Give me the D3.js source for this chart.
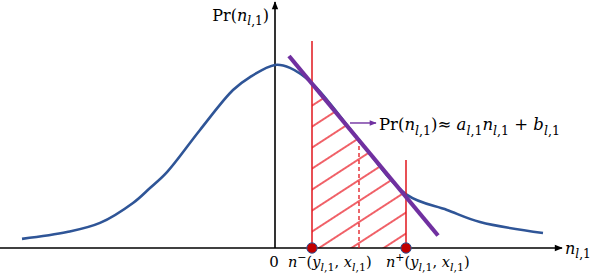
<!doctype html>
<html>
  <head>
    <meta charset="utf-8">
    <title>Linear approximation of Pr(n)</title>
    <script src="https://cdnjs.cloudflare.com/ajax/libs/d3/7.8.5/d3.min.js"></script>
    <style>
      body { margin: 0; background: #fff; }
      text { font-family: "DejaVu Serif", "Liberation Serif", serif; fill: #000; }
    </style>
  </head>
  <body>
    <div id="chart"></div>
    <script>

      // density curve (n, Pr)
      const curveN  = [-5.06, -4.16, -3.5, -2.84, -2.5, -2.16, -1.5, -0.84, -0.5, 0, 0.3, 0.74, 1.68, 2.64, 3.44, 4.1, 5.36];
      const curvePr = [0.05, 0.087, 0.137, 0.246, 0.328, 0.415, 0.645, 0.863, 0.934, 1.0, 0.984, 0.90, 0.59, 0.29, 0.208, 0.142, 0.082];

      // interval and linear approximation
      const nMinus = 0.74, nPlus = 2.62, nMid = 1.68;
      const leftTop = 1.131, rightTop = 0.481;
      const lineN = [0.28, 3.26];
      const lineA = -0.329, lineB = 1.141;

      // annotation arrow
      const arrowN = [1.5, 2.02], arrowPr = 0.683;

      const width = 594, height = 276;

      const x = d3.scaleLinear().domain([-5.5, 5.46]).range([0, 548]);
      const y = d3.scaleLinear().domain([0, 1.344]).range([248, 2]);

      const svg = d3.select('#chart').append('svg')
        .attr('width', width)
        .attr('height', height);

      const defs = svg.append('defs');

      // arrow heads
      function marker(id, color, w, h) {
        defs.append('marker')
          .attr('id', id)
          .attr('viewBox', '0 0 10 10')
          .attr('refX', 9).attr('refY', 5)
          .attr('markerWidth', w).attr('markerHeight', h)
          .attr('markerUnits', 'userSpaceOnUse')
          .attr('orient', 'auto')
          .append('path')
          .attr('d', 'M0,1 L10,5 L0,9 Z')
          .attr('fill', color);
      }
      marker('arrBlack', '#000', 10, 8);
      marker('arrPurple', '#7030a0', 9, 7);

      // hatch
      const pat = defs.append('pattern')
        .attr('id', 'hatch')
        .attr('patternUnits', 'userSpaceOnUse')
        .attr('width', 20).attr('height', 17.6)
        .attr('patternTransform', 'translate(0,4) rotate(-33)');
      pat.append('line')
        .attr('x1', -2).attr('x2', 22)
        .attr('y1', 8.8).attr('y2', 8.8)
        .attr('stroke', '#e8101a')
        .attr('stroke-width', 1.3);

      const red = '#e0161c';
      const linePr = n => lineA * n + lineB;

      // hatched area under the linear approximation
      const area = [[nMinus, 0], [nMinus, linePr(nMinus)], [nPlus, linePr(nPlus)], [nPlus, 0]];
      svg.append('path')
        .attr('d', 'M' + area.map(p => [x(p[0]), y(p[1])].join(',')).join('L') + 'Z')
        .attr('fill', 'url(#hatch)');

      // axes
      svg.append('line')
        .attr('x1', x(-5.5)).attr('x2', x(5.74))
        .attr('y1', y(0)).attr('y2', y(0))
        .attr('stroke', '#000').attr('stroke-width', 1.6)
        .attr('marker-end', 'url(#arrBlack)');
      svg.append('line')
        .attr('x1', x(0)).attr('x2', x(0))
        .attr('y1', y(0)).attr('y2', y(1.344))
        .attr('stroke', '#000').attr('stroke-width', 1.6)
        .attr('marker-end', 'url(#arrBlack)');

      // curve
      const pts = curveN.map((n, i) => [n, curvePr[i]]);
      svg.append('path')
        .datum(pts)
        .attr('d', d3.line().x(d => x(d[0])).y(d => y(d[1])).curve(d3.curveCatmullRom.alpha(0.5)))
        .attr('fill', 'none')
        .attr('stroke', '#2f5597')
        .attr('stroke-width', 2.6);

      // vertical red lines
      svg.append('line')
        .attr('x1', x(nMinus)).attr('x2', x(nMinus))
        .attr('y1', y(0)).attr('y2', y(leftTop))
        .attr('stroke', red).attr('stroke-width', 1.5);
      svg.append('line')
        .attr('x1', x(nPlus)).attr('x2', x(nPlus))
        .attr('y1', y(0)).attr('y2', y(rightTop))
        .attr('stroke', red).attr('stroke-width', 1.5);
      svg.append('line')
        .attr('x1', x(nMid)).attr('x2', x(nMid))
        .attr('y1', y(0)).attr('y2', y(linePr(nMid)))
        .attr('stroke', red).attr('stroke-width', 1.3)
        .attr('stroke-dasharray', '4,3');

      // linear approximation
      svg.append('line')
        .attr('x1', x(lineN[0])).attr('y1', y(linePr(lineN[0])))
        .attr('x2', x(lineN[1])).attr('y2', y(linePr(lineN[1])))
        .attr('stroke', '#7030a0').attr('stroke-width', 4.2);

      // annotation arrow
      svg.append('line')
        .attr('x1', x(arrowN[0])).attr('x2', x(arrowN[1]))
        .attr('y1', y(arrowPr)).attr('y2', y(arrowPr))
        .attr('stroke', '#7030a0').attr('stroke-width', 1.4)
        .attr('marker-end', 'url(#arrPurple)');

      // endpoints
      svg.selectAll('circle.end')
        .data([nMinus, nPlus])
        .join('circle')
        .attr('class', 'end')
        .attr('cx', d => x(d)).attr('cy', y(0))
        .attr('r', 5.2)
        .attr('fill', '#c00000')
        .attr('stroke', '#2f5597').attr('stroke-width', 1);

      // math text helper: parts = [text, kind], kind: r roman, i italic, sub, subi, sup
      function mathText(px, py, size, parts, anchor) {
        const t = svg.append('text')
          .attr('x', px).attr('y', py)
          .attr('text-anchor', anchor || 'start')
          .style('font-size', size + 'px');
        let shift = 0;
        parts.forEach(([s, kind]) => {
          let target = 0, fs = size, italic = false;
          if (kind === 'i') italic = true;
          if (kind === 'sub') { target = size * 0.28; fs = size * 0.76; }
          if (kind === 'subi') { target = size * 0.28; fs = size * 0.76; italic = true; }
          if (kind === 'sup') { target = -size * 0.38; fs = size * 0.76; }
          t.append('tspan')
            .attr('dy', target - shift)
            .style('font-size', fs + 'px')
            .style('font-style', italic ? 'italic' : 'normal')
            .text(s);
          shift = target;
        });
        return t;
      }

      const nl1 = [['n', 'i'], ['l', 'subi'], [',1', 'sub']];

      mathText(269, 21, 16, [['Pr(', 'r'], ...nl1, [')', 'r']], 'end');
      mathText(565, 254, 16, nl1);
      mathText(379, 130, 16.5, [['Pr(', 'r'], ...nl1, [')≈ ', 'r'],
        ['a', 'i'], ['l', 'subi'], [',1', 'sub'], ...nl1, [' + ', 'r'],
        ['b', 'i'], ['l', 'subi'], [',1', 'sub']]);

      svg.append('text')
        .attr('x', 274).attr('y', 267)
        .attr('text-anchor', 'middle')
        .style('font-size', '15px')
        .text('0');

      const yx = [['(', 'r'], ['y', 'i'], ['l', 'subi'], [',1', 'sub'], [', ', 'r'], ['x', 'i'], ['l', 'subi'], [',1', 'sub'], [')', 'r']];
      mathText(288, 267, 14.5, [['n', 'i'], ['−', 'sup'], ...yx]);
      mathText(386, 267, 14.5, [['n', 'i'], ['+', 'sup'], ...yx]);

    </script>
  </body>
</html>
